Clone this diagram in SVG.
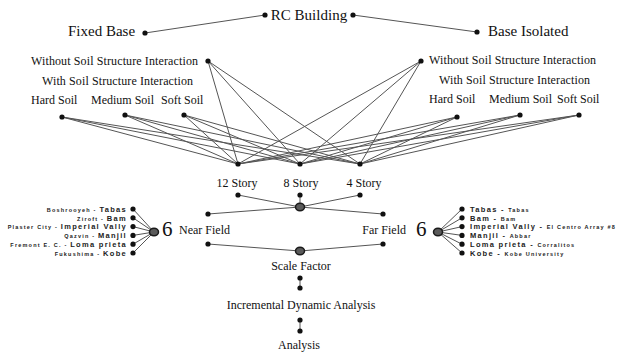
<svg xmlns="http://www.w3.org/2000/svg" width="618" height="353" viewBox="0 0 618 353">
<style>
.t{font-family:"Liberation Serif","Times New Roman",serif;fill:#111}
.l15{font-size:15px}
.l12{font-size:12px}
.six{font-size:21px}
.q{font-family:"Liberation Sans",Arial,sans-serif;font-weight:bold;fill:#222}
.b{font-size:7.5px;letter-spacing:1.3px}
.s{font-size:5.5px;letter-spacing:1.2px}
.d{fill:#111}
.big{fill:#5a5a5a;stroke:#1a1a1a;stroke-width:1.5}
.c line{stroke:#555;stroke-width:1}
</style>
<rect width="618" height="353" fill="#fff"/>
<g class="c" id="connectors">
<line x1="265" y1="15" x2="145" y2="33"/>
<line x1="353" y1="15" x2="477" y2="32"/>
<line x1="208" y1="61" x2="238" y2="164"/><line x1="208" y1="61" x2="300" y2="164"/><line x1="208" y1="61" x2="360" y2="164"/>
<line x1="62" y1="117" x2="238" y2="164"/><line x1="62" y1="117" x2="300" y2="164"/><line x1="62" y1="117" x2="360" y2="164"/>
<line x1="125" y1="115" x2="238" y2="164"/><line x1="125" y1="115" x2="300" y2="164"/><line x1="125" y1="115" x2="360" y2="164"/>
<line x1="184" y1="115" x2="238" y2="164"/><line x1="184" y1="115" x2="300" y2="164"/><line x1="184" y1="115" x2="360" y2="164"/>
<line x1="421" y1="61" x2="238" y2="164"/><line x1="421" y1="61" x2="300" y2="164"/><line x1="421" y1="61" x2="360" y2="164"/>
<line x1="457" y1="117" x2="238" y2="164"/><line x1="457" y1="117" x2="300" y2="164"/><line x1="457" y1="117" x2="360" y2="164"/>
<line x1="520" y1="115" x2="238" y2="164"/><line x1="520" y1="115" x2="300" y2="164"/><line x1="520" y1="115" x2="360" y2="164"/>
<line x1="579" y1="115" x2="238" y2="164"/><line x1="579" y1="115" x2="300" y2="164"/><line x1="579" y1="115" x2="360" y2="164"/>
<line x1="238" y1="195" x2="300" y2="207"/><line x1="300" y1="195" x2="300" y2="207"/><line x1="360" y1="195" x2="300" y2="207"/>
<line x1="300" y1="207" x2="208" y2="214"/><line x1="300" y1="207" x2="383" y2="214"/>
<line x1="208" y1="244" x2="300" y2="251"/><line x1="383" y1="244" x2="300" y2="251"/>
<line x1="300" y1="278" x2="300" y2="288"/>
<line x1="300" y1="320" x2="300" y2="331"/>
<line x1="133" y1="209" x2="154" y2="232"/><line x1="133" y1="217.8" x2="154" y2="232"/><line x1="133" y1="226.6" x2="154" y2="232"/><line x1="133" y1="235.4" x2="154" y2="232"/><line x1="133" y1="244.2" x2="154" y2="232"/><line x1="133" y1="253" x2="154" y2="232"/>
<line x1="462" y1="209" x2="438" y2="232"/><line x1="462" y1="217.8" x2="438" y2="232"/><line x1="462" y1="226.6" x2="438" y2="232"/><line x1="462" y1="235.4" x2="438" y2="232"/><line x1="462" y1="244.2" x2="438" y2="232"/><line x1="462" y1="253" x2="438" y2="232"/>
</g>
<g id="rc"><circle class="d" cx="265" cy="15" r="2.6"/><circle class="d" cx="353" cy="15" r="2.6"/><text class="t l15" x="309" y="20" text-anchor="middle">RC Building</text></g>
<g id="fixed"><circle class="d" cx="145" cy="33" r="2.6"/><text class="t l15" x="68" y="36">Fixed Base</text></g>
<g id="isolated"><circle class="d" cx="477" cy="32" r="2.6"/><text class="t l15" x="488" y="36">Base Isolated</text></g>
<g id="l-wo"><circle class="d" cx="208" cy="61" r="2.6"/><text class="t l12" x="31" y="65" textLength="167">Without Soil Structure Interaction</text></g>
<g id="l-w"><text class="t l12" x="42" y="85" textLength="151">With Soil Structure Interaction</text></g>
<g id="l-hard"><circle class="d" cx="62" cy="117" r="2.6"/><text class="t l12" x="31" y="104">Hard Soil</text></g>
<g id="l-med"><circle class="d" cx="125" cy="115" r="2.6"/><text class="t l12" x="91" y="104">Medium Soil</text></g>
<g id="l-soft"><circle class="d" cx="184" cy="115" r="2.6"/><text class="t l12" x="161" y="104">Soft Soil</text></g>
<g id="r-wo"><circle class="d" cx="421" cy="61" r="2.6"/><text class="t l12" x="429" y="64" textLength="167">Without Soil Structure Interaction</text></g>
<g id="r-w"><text class="t l12" x="439" y="84" textLength="151">With Soil Structure Interaction</text></g>
<g id="r-hard"><circle class="d" cx="457" cy="117" r="2.6"/><text class="t l12" x="429" y="103">Hard Soil</text></g>
<g id="r-med"><circle class="d" cx="520" cy="115" r="2.6"/><text class="t l12" x="489" y="103">Medium Soil</text></g>
<g id="r-soft"><circle class="d" cx="579" cy="115" r="2.6"/><text class="t l12" x="557" y="103">Soft Soil</text></g>
<g id="s12"><circle class="d" cx="238" cy="164" r="2.6"/><text class="t l12" x="237" y="187" text-anchor="middle">12 Story</text><circle class="d" cx="238" cy="195" r="2.6"/></g>
<g id="s8"><circle class="d" cx="300" cy="164" r="2.6"/><text class="t l12" x="301" y="187" text-anchor="middle">8 Story</text><circle class="d" cx="300" cy="195" r="2.6"/></g>
<g id="s4"><circle class="d" cx="360" cy="164" r="2.6"/><text class="t l12" x="364" y="187" text-anchor="middle">4 Story</text><circle class="d" cx="360" cy="195" r="2.6"/></g>
<g id="hub1"><ellipse class="big" cx="300" cy="207" rx="4.5" ry="3.8"/></g>
<g id="near"><circle class="d" cx="208" cy="214" r="2.6"/><circle class="d" cx="208" cy="244" r="2.6"/><text class="t l12" x="179" y="234">Near Field</text><text class="t six" x="162" y="236">6</text><ellipse class="big" cx="154" cy="232" rx="4.5" ry="3.8"/></g>
<g id="far"><circle class="d" cx="383" cy="214" r="2.6"/><circle class="d" cx="383" cy="244" r="2.6"/><text class="t l12" x="406" y="234" text-anchor="end">Far Field</text><text class="t six" x="416" y="236">6</text><ellipse class="big" cx="438" cy="232" rx="4.5" ry="3.8"/></g>
<g id="hub2"><ellipse class="big" cx="300" cy="251" rx="4.5" ry="3.8"/><text class="t l12" x="301" y="270" text-anchor="middle">Scale Factor</text></g>
<g id="ida"><circle class="d" cx="300" cy="278" r="2.6"/><circle class="d" cx="300" cy="288" r="2.6"/><text class="t l12" x="301" y="309" text-anchor="middle">Incremental Dynamic Analysis</text></g>
<g id="analysis"><circle class="d" cx="300" cy="320" r="2.6"/><circle class="d" cx="300" cy="331" r="2.6"/><text class="t l12" x="299" y="349" text-anchor="middle">Analysis</text></g>
<g id="near-records">
<circle class="d" cx="133" cy="209" r="2.6"/><circle class="d" cx="133" cy="217.8" r="2.6"/><circle class="d" cx="133" cy="226.6" r="2.6"/><circle class="d" cx="133" cy="235.4" r="2.6"/><circle class="d" cx="133" cy="244.2" r="2.6"/><circle class="d" cx="133" cy="253" r="2.6"/>
<text class="q" x="127" y="211.8" text-anchor="end"><tspan class="s">Boshrooyeh - </tspan><tspan class="b">Tabas</tspan></text>
<text class="q" x="127" y="220.6" text-anchor="end"><tspan class="s">Ziroft - </tspan><tspan class="b">Bam</tspan></text>
<text class="q" x="127" y="229.4" text-anchor="end"><tspan class="s">Plaster City - </tspan><tspan class="b">Imperial Vally</tspan></text>
<text class="q" x="127" y="238.2" text-anchor="end"><tspan class="s">Qazvin - </tspan><tspan class="b">Manjil</tspan></text>
<text class="q" x="127" y="247" text-anchor="end"><tspan class="s">Fremont E. C. - </tspan><tspan class="b">Loma prieta</tspan></text>
<text class="q" x="127" y="255.8" text-anchor="end"><tspan class="s">Fukushima - </tspan><tspan class="b">Kobe</tspan></text>
</g>
<g id="far-records">
<circle class="d" cx="462" cy="209" r="2.6"/><circle class="d" cx="462" cy="217.8" r="2.6"/><circle class="d" cx="462" cy="226.6" r="2.6"/><circle class="d" cx="462" cy="235.4" r="2.6"/><circle class="d" cx="462" cy="244.2" r="2.6"/><circle class="d" cx="462" cy="253" r="2.6"/>
<text class="q" x="470" y="211.8"><tspan class="b">Tabas - </tspan><tspan class="s">Tabas</tspan></text>
<text class="q" x="470" y="220.6"><tspan class="b">Bam - </tspan><tspan class="s">Bam</tspan></text>
<text class="q" x="470" y="229.4"><tspan class="b">Imperial Vally - </tspan><tspan class="s">El Centro Array #8</tspan></text>
<text class="q" x="470" y="238.2"><tspan class="b">Manjil - </tspan><tspan class="s">Abbar</tspan></text>
<text class="q" x="470" y="247"><tspan class="b">Loma prieta - </tspan><tspan class="s">Corralitos</tspan></text>
<text class="q" x="470" y="255.8"><tspan class="b">Kobe - </tspan><tspan class="s">Kobe University</tspan></text>
</g>
</svg>
